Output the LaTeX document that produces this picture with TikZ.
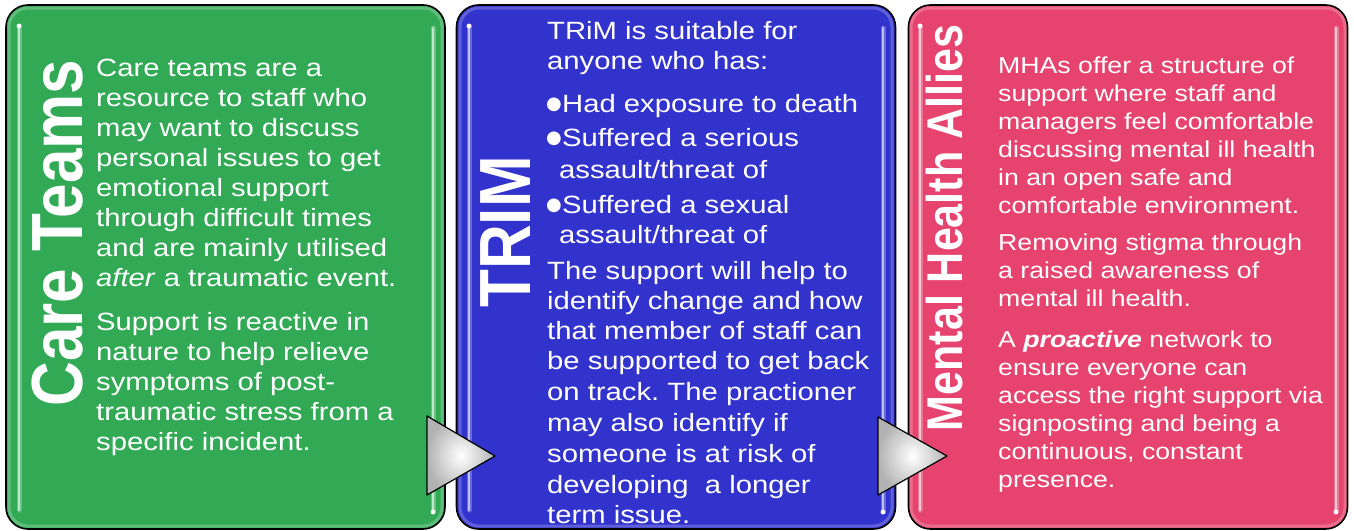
\documentclass[tikz,border=0pt]{standalone}
\usepackage{fontspec}
\usepackage{graphicx}
\setmainfont{Liberation Sans}
\newfontfamily\bodyfont[FakeStretch=1.17]{Liberation Sans}
\newfontfamily\mhafont[FakeStretch=1.16]{Liberation Sans}
\newfontfamily\dotfont{DejaVu Sans}
\frenchspacing

\definecolor{careGreen}{RGB}{50,170,85}
\definecolor{trimBlue}{RGB}{50,50,205}
\definecolor{mhaPink}{RGB}{230,68,110}

% round list bullet, a little larger than the body font's own
\newcommand\listdot{\makebox[15pt][l]{\hspace*{-1pt}\raisebox{3pt}{\dotfont\fontsize{18}{18}\selectfont ●}}}

\begin{document}
\begin{tikzpicture}[x=1pt,y=-1pt,
  panel/.style={draw=black, line width=1.6pt, rounded corners=22pt,
    minimum width=439pt, minimum height=524pt, inner sep=0pt},
  gloss/.style={draw=white, draw opacity=0.22, line width=3pt, rounded corners=19pt},
  glow/.style={line width=5pt, line cap=round, draw opacity=0.45},
  strip/.style={line width=2.2pt, line cap=round},
  title/.style={text=white, rotate=90, anchor=base, inner sep=0pt},
  body/.style={text=white, anchor=base west, inner sep=0pt},
  chevron/.style={draw=black, line width=1.2pt, line join=round,
    inner color=white, outer color=gray!60},
]
\useasboundingbox (0,0) rectangle (1354,530);

% three panels
\node[panel, fill=careGreen] (care) at (225.5,267) {};
\node[panel, fill=trimBlue]  (trim) at (676,267) {};
\node[panel, fill=mhaPink]   (mha)  at (1128,267) {};

% glossy inner rims
\draw[gloss] (9,8) rectangle (442,526);
\draw[gloss] (460,8) rectangle (892,526);
\draw[gloss] (911,8) rectangle (1345,526);

% light edge strips
\foreach \xl/\xr/\c in {19/433/careGreen, 469/883/trimBlue, 920/1336/mhaPink}{
  \draw[glow, draw=\c!40!white] (\xl,26) -- (\xl,510);
  \draw[strip, draw=\c!30!white] (\xl,26) -- (\xl,510);
  \draw[glow, draw=\c!40!white] (\xr,28) -- (\xr,512);
  \draw[strip, draw=\c!30!white] (\xr,28) -- (\xr,512);
  \fill[white] (\xl,26) circle (2.4pt);
  \fill[white] (\xr,512) circle (2.4pt);
}

% vertical titles
\node[title, font=\bfseries\fontsize{62}{62}\selectfont] (careTitle) at (82,233)
  {\scalebox{1}[1.17]{Care Teams}};
\node[title, font=\bfseries\fontsize{62}{62}\selectfont] (trimTitle) at (530,232)
  {\scalebox{1}[1.17]{TRIM}};
\node[title, font=\bfseries\fontsize{43}{43}\selectfont] (mhaTitle) at (962,228)
  {\scalebox{1}[1.17]{Mental Health Allies}};

% body texts
\node[body] (careText) at (96,76) {\parbox[t]{345pt}{\bodyfont\fontsize{25}{30}\selectfont\raggedright
Care teams are a\\
resource to staff who\\
may want to discuss\\
personal issues to get\\
emotional support\\
through difficult times\\
and are mainly utilised\\
\textit{after} a traumatic event.\\[14pt]
Support is reactive in\\
nature to help relieve\\
symptoms of post-\\
traumatic stress from a\\
specific incident.}};

\node[body] (trimText) at (547,39) {\parbox[t]{345pt}{\bodyfont\fontsize{25}{30}\selectfont\raggedright
TRiM is suitable for\\
anyone who has:\\[13pt]
\listdot Had exposure to death\\[4pt]
\listdot Suffered a serious\\[2pt]
\hspace*{12pt}assault/threat of\\[5pt]
\listdot Suffered a sexual\\
\hspace*{12pt}assault/threat of\\[6pt]
The support will help to\\
identify change and how\\
that member of staff can\\
be supported to get back\\[1pt]
on track. The practioner\\[1pt]
may also identify if\\[1pt]
someone is at risk of\\[1pt]
developing\ \ a longer\\
term issue.}};

\node[body] (mhaText) at (998,73) {\parbox[t]{345pt}{\mhafont\fontsize{23}{28}\selectfont\raggedright
MHAs offer a structure of\\
support where staff and\\
managers feel comfortable\\
discussing mental ill health\\
in an open safe and\\
comfortable environment.\\[9pt]
Removing stigma through\\
a raised awareness of\\
mental ill health.\\[13pt]
A \textbf{\textit{proactive}} network to\\
ensure everyone can\\
access the right support via\\
signposting and being a\\
continuous, constant\\
presence.}};

% chevrons between panels
\draw[chevron] (427,416) -- (495,456) -- (427,495) -- cycle;
\draw[chevron] (878,417) -- (947,456) -- (878,495) -- cycle;
\end{tikzpicture}
\end{document}
